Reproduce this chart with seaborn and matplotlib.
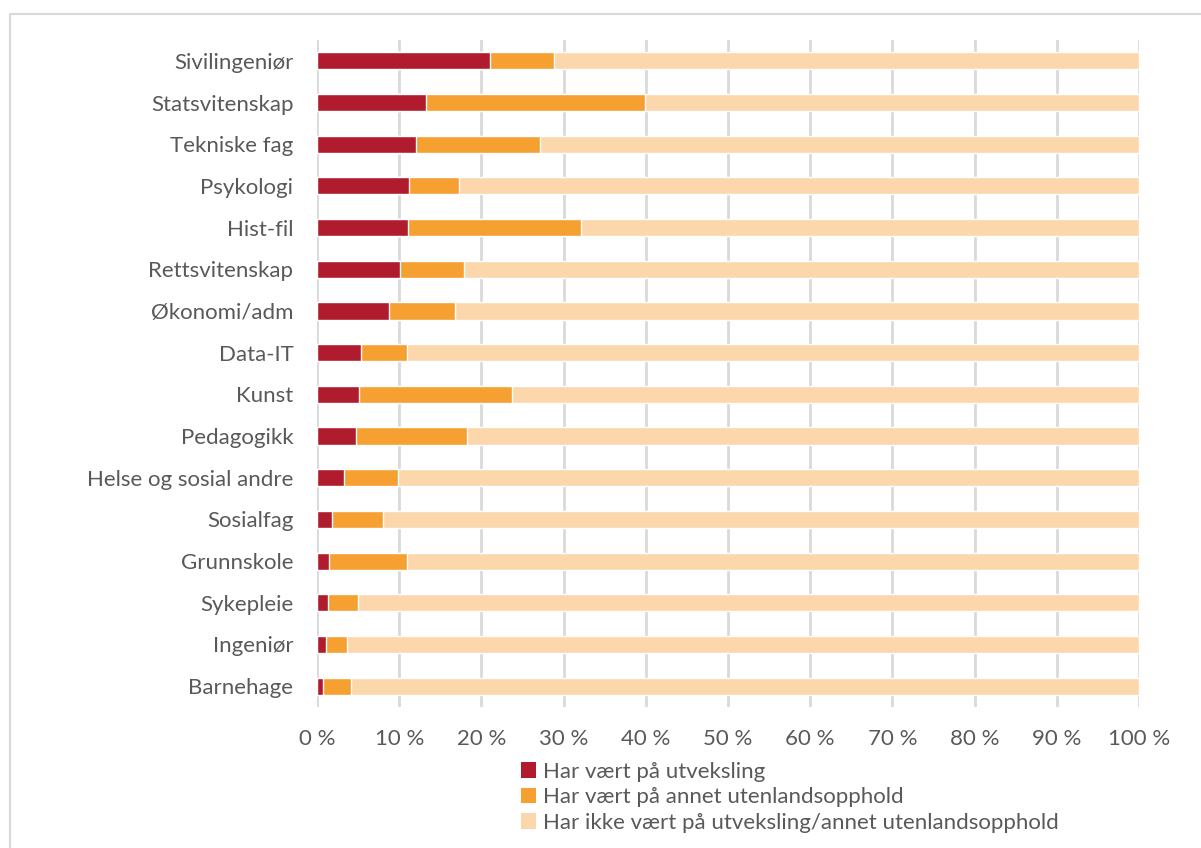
import numpy as np
import pandas as pd
import matplotlib
matplotlib.use("Agg")
import matplotlib.pyplot as plt
import seaborn as sns
from matplotlib.patches import Patch
from matplotlib.lines import Line2D

# Data: share of students (%) per field of study
fag = ["Sivilingeniør", "Statsvitenskap", "Tekniske fag", "Psykologi", "Hist-fil",
       "Rettsvitenskap", "Økonomi/adm", "Data-IT", "Kunst", "Pedagogikk",
       "Helse og sosial andre", "Sosialfag", "Grunnskole", "Sykepleie",
       "Ingeniør", "Barnehage"]
utveksling = [21.0, 13.3, 12.0, 11.2, 11.1, 10.1, 8.7, 5.4, 5.1, 4.7,
              3.3, 1.8, 1.5, 1.3, 1.1, 0.7]
annet_opphold = [7.8, 26.6, 15.1, 6.1, 21.0, 7.8, 8.1, 5.5, 18.6, 13.5,
                 6.5, 6.2, 9.5, 3.7, 2.6, 3.4]
ingen = [71.2, 60.1, 72.9, 82.7, 67.9, 82.1, 83.2, 89.1, 76.3, 81.8,
         90.2, 92.0, 89.0, 95.0, 96.3, 95.9]

series_names = ["Har vært på utveksling",
                "Har vært på annet utenlandsopphold",
                "Har ikke vært på utveksling/annet utenlandsopphold"]
colors = ["#B01C2E", "#F5A031", "#FBD7AB"]

df = pd.DataFrame({"fag": fag, "s1": utveksling, "s2": annet_opphold, "s3": ingen})
df["c1"] = df["s1"]
df["c2"] = df["s1"] + df["s2"]
df["c3"] = df["c2"] + df["s3"]

sns.set_theme(style="white")
plt.rcParams["font.family"] = ["Lato", "DejaVu Sans"]
text_color = "#595959"
fs = 16

fig = plt.figure(figsize=(12.01, 8.48), dpi=100)
ax = fig.add_axes([317 / 1201, 1 - 707 / 848, (1139 - 317) / 1201, (707 - 40) / 848])

for col, c in zip(["c3", "c2", "c1"], colors[::-1]):
    sns.barplot(data=df, x=col, y="fag", orient="h", color=c, width=0.41,
                saturation=1, ax=ax, zorder=3)

ax.set_xlim(0, 100)
ax.set_xticks(range(0, 101, 10))
ax.set_xticklabels([f"{v} %" for v in range(0, 101, 10)])
ax.xaxis.grid(True, color="#D9D9D9", linewidth=2, zorder=0)
ax.set_axisbelow(True)
for s in ax.spines.values():
    s.set_visible(False)
ax.set_xlabel("")
ax.set_ylabel("")
ax.tick_params(axis="both", length=0, labelsize=fs, labelcolor=text_color)
ax.tick_params(axis="x", pad=16)
ax.tick_params(axis="y", pad=17)

handles = [Patch(facecolor=c, edgecolor="none") for c in colors]
fig.legend(handles, series_names, loc="upper left", bbox_to_anchor=(512 / 1201, 1 - 753 / 848),
           frameon=False, fontsize=fs, labelcolor=text_color, handlelength=0.7,
           handleheight=0.7, handletextpad=0.3, labelspacing=0.25, borderaxespad=0)

# outer chart border (top and left visible)
fig.add_artist(Line2D([10 / 1201, 10 / 1201], [0, 1 - 14 / 848], color="#D9D9D9", lw=1.5,
                      transform=fig.transFigure))
fig.add_artist(Line2D([10 / 1201, 1], [1 - 14 / 848, 1 - 14 / 848], color="#D9D9D9", lw=1.5,
                      transform=fig.transFigure))

fig.savefig("out.png", dpi=100)
